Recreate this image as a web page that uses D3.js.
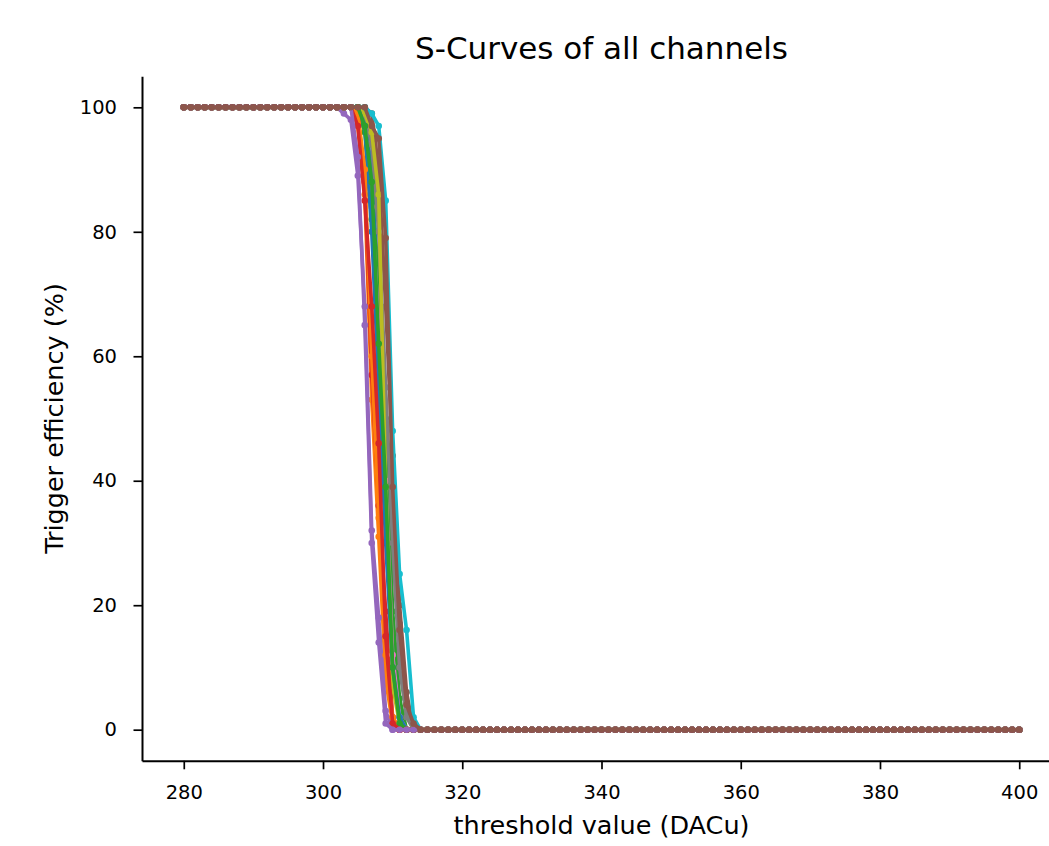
<!DOCTYPE html>
<html>
<head>
<meta charset="utf-8">
<script src="https://cdn.jsdelivr.net/npm/d3@7"></script>
<style>
   body { margin: 0; background: #fff; }
   svg text { font-family: "DejaVu Sans", sans-serif; fill: #000; }
</style>
</head>
<body>
<svg id="chart" width="1049" height="846"></svg>
<script>
// threshold scan, 280 .. 400 DACu
const thresholds = d3.range(280, 401);
const xTicks = [280, 300, 320, 340, 360, 380, 400];
const yTicks = [0, 20, 40, 60, 80, 100];

// first threshold where each channel leaves 100 %
const dropStart = [306, 305, 306, 305, 303, 307, 306, 306, 306, 307, 306, 305, 306, 305, 305, 307];
// efficiency values (then 0 % up to 400)
const dropValues = [
   [98, 90, 70, 45, 28, 17, 3],
   [97, 86, 53, 31, 8, 1],
   [96, 82, 75, 50, 19, 5],
   [99, 88, 57, 36, 19, 2],
   [99, 98, 89, 68, 32, 18, 3],
   [99, 90, 68, 44, 20, 6],
   [98, 84, 65, 40, 12, 2],
   [99, 94, 80, 55, 30, 10, 2],
   [99, 96, 86, 39, 7, 1],
   [99, 97, 85, 48, 25, 16, 2],
   [97, 80, 55, 30, 10, 2],
   [99, 90, 60, 34, 12, 2],
   [97, 88, 62, 39, 10, 1],
   [97, 85, 68, 46, 15, 1],
   [92, 65, 30, 14, 1],
   [97, 95, 79, 39, 16, 4, 1]
];

const colors = d3.schemeCategory10;

let channels = dropStart.map(function(start, ch) {
   let drop = dropValues[ch];
   return thresholds.map(function(t) {
      let v;
      if (t < start) v = 100;
      else if (t - start < drop.length) v = drop[t - start];
      else v = 0;
      return [t, v];
   });
});

const svg = d3.select('#chart');

const x = d3.scaleLinear().domain([274, 406]).range([142, 1061]);
const y = d3.scaleLinear().domain([-5, 105]).range([760.8, 76.2]);

// curves
const line = d3.line()
   .x(d => x(d[0]))
   .y(d => y(d[1]));

channels.forEach(function(data, ch) {
   let g = svg.append('g');
   g.append('path')
      .datum(data)
      .attr('d', line)
      .attr('fill', 'none')
      .attr('stroke', colors[ch % 10])
      .attr('stroke-width', 3.6)
      .attr('stroke-linejoin', 'round');
   g.selectAll('circle')
      .data(data)
      .enter()
      .append('circle')
         .attr('cx', d => x(d[0]))
         .attr('cy', d => y(d[1]))
         .attr('r', 3.3)
         .attr('fill', colors[ch % 10]);
});

// axes
const xAxis = svg.append('g')
   .attr('transform', 'translate(0,760.8)')
   .call(d3.axisBottom(x).tickValues(xTicks).tickSize(8.5).tickPadding(16).tickSizeOuter(0));
const yAxis = svg.append('g')
   .attr('transform', 'translate(142,0)')
   .call(d3.axisLeft(y).tickValues(yTicks).tickSize(8.5).tickPadding(16.5).tickSizeOuter(0));

[xAxis, yAxis].forEach(function(ax) {
   ax.select('.domain').attr('stroke', '#000').attr('stroke-width', 2);
   ax.selectAll('.tick line').attr('stroke', '#000').attr('stroke-width', 1.7);
   ax.selectAll('.tick text')
      .style('font-size', '19.5px')
      .style('font-family', '"DejaVu Sans", sans-serif');
});

// labels
svg.append('text')
   .text('S-Curves of all channels')
   .attr('x', 601.5)
   .attr('y', 59)
   .attr('text-anchor', 'middle')
   .style('font-size', '31px');

svg.append('text')
   .text('threshold value (DACu)')
   .attr('x', 601.5)
   .attr('y', 834)
   .attr('text-anchor', 'middle')
   .style('font-size', '25.5px');

svg.append('text')
   .text('Trigger efficiency (%)')
   .attr('transform', 'translate(63,418.5) rotate(-90)')
   .attr('text-anchor', 'middle')
   .style('font-size', '25.5px');
</script>
</body>
</html>
